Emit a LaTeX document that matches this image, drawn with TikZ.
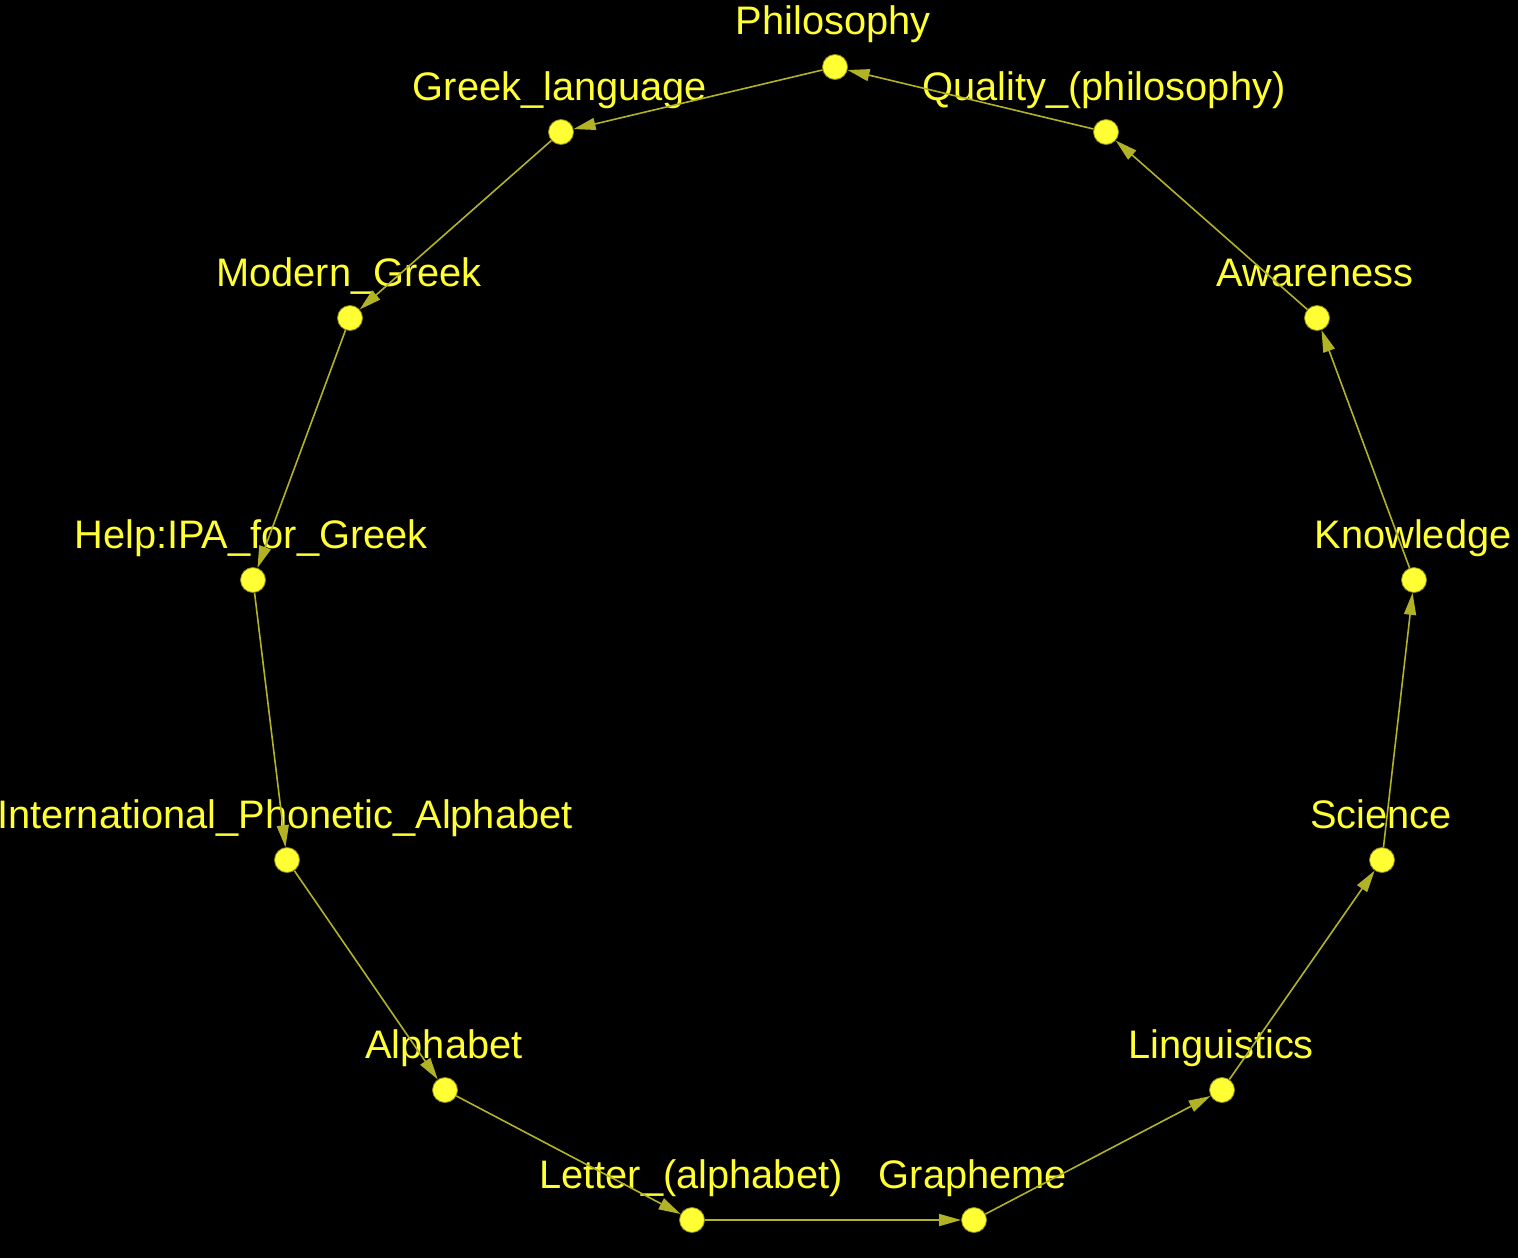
\documentclass[tikz,border=0pt]{standalone}
\usepackage{fontspec}
\setmainfont{Liberation Sans}
\usepackage{tikz}
\usetikzlibrary{arrows.meta, positioning}
\definecolor{dotyellow}{RGB}{255,255,51}
\definecolor{edgeolive}{RGB}{178,178,38}
\definecolor{rimolive}{RGB}{140,140,20}

\begin{document}
\begin{tikzpicture}[
    x=0.5pt, y=-0.5pt,
    dot/.style={circle, fill=dotyellow, draw=rimolive, line width=0.4pt, minimum size=12.5pt, inner sep=0pt},
    lbl/.style={anchor=base, text=dotyellow, font=\fontsize{19.9pt}{22pt}\selectfont, inner sep=0pt},
    arrow/.style={-{Triangle[length=11pt, width=6pt]}, draw=edgeolive, fill=edgeolive, line width=0.8pt}
]
% Hintergrund
\fill[black] (0,0) rectangle (1518,1258);
\useasboundingbox (0,0) rectangle (1518,1258);

% Knoten (im Kreis)
\node[dot] (philosophy) at (835,67) {};
\node[dot] (greek) at (561,132) {};
\node[dot] (modern) at (350,318) {};
\node[dot] (helpipa) at (253,580) {};
\node[dot] (ipa) at (287,860) {};
\node[dot] (alphabet) at (445,1090) {};
\node[dot] (letter) at (692,1220) {};
\node[dot] (grapheme) at (974,1220) {};
\node[dot] (linguistics) at (1222,1090) {};
\node[dot] (science) at (1382,860) {};
\node[dot] (knowledge) at (1414,580) {};
\node[dot] (awareness) at (1317,318) {};
\node[dot] (quality) at (1106,132) {};

% Beschriftungen
\node[lbl] (philosophyL) at (833,34) {Philosophy};
\node[lbl] (greekL) at (560,100) {Greek\_language};
\node[lbl] (modernL) at (349,286) {Modern\_Greek};
\node[lbl] (helpipaL) at (251,548) {Help:IPA\_for\_Greek};
\node[lbl] (ipaL) at (285,828) {International\_Phonetic\_Alphabet};
\node[lbl] (alphabetL) at (444,1058) {Alphabet};
\node[lbl] (letterL) at (691,1188) {Letter\_(alphabet)};
\node[lbl] (graphemeL) at (973,1188) {Grapheme};
\node[lbl] (linguisticsL) at (1221,1058) {Linguistics};
\node[lbl] (scienceL) at (1381,828) {Science};
\node[lbl] (knowledgeL) at (1413,548) {Knowledge};
\node[lbl] (awarenessL) at (1315,286) {Awareness};
\node[lbl] (qualityL) at (1104,100) {Quality\_(philosophy)};

% Kanten
\draw[arrow] (philosophy) -- (greek);
\draw[arrow] (greek) -- (modern);
\draw[arrow] (modern) -- (helpipa);
\draw[arrow] (helpipa) -- (ipa);
\draw[arrow] (ipa) -- (alphabet);
\draw[arrow] (alphabet) -- (letter);
\draw[arrow] (letter) -- (grapheme);
\draw[arrow] (grapheme) -- (linguistics);
\draw[arrow] (linguistics) -- (science);
\draw[arrow] (science) -- (knowledge);
\draw[arrow] (knowledge) -- (awareness);
\draw[arrow] (awareness) -- (quality);
\draw[arrow] (quality) -- (philosophy);

\end{tikzpicture}
\end{document}
